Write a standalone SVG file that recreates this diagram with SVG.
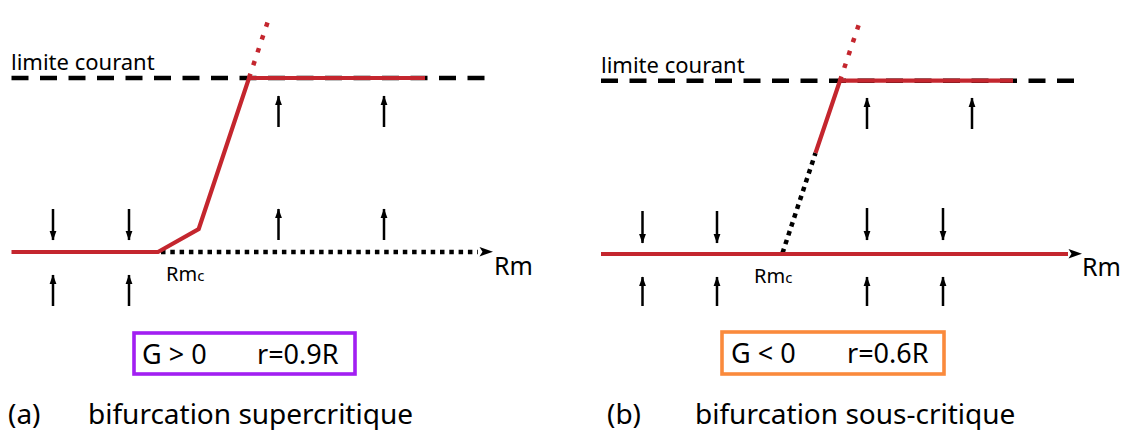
<svg xmlns="http://www.w3.org/2000/svg" width="1121" height="430" viewBox="0 0 1121 430">
<defs>
<marker id="ah" markerUnits="userSpaceOnUse" markerWidth="10" markerHeight="8" viewBox="0 -4 10 8" refX="9" refY="0" orient="auto">
<path d="M0,-3.4 L9.5,0 L0,3.4 z" fill="#000"/>
</marker>
</defs>
<style>
text{font-family:"Noto Sans","Open Sans","DejaVu Sans",sans-serif;fill:#000}
.lab{font-size:22px}
.rm{font-size:25px}
.rmc{font-size:20px}
.box{font-size:27px}
.cap{font-size:28px}
.red{stroke:#C4262E;stroke-width:4.2;fill:none}
.reddot{stroke:#C4262E;stroke-width:4.5;fill:none;stroke-dasharray:4.5 9}
.dash{stroke:#000;stroke-width:4.4;fill:none;stroke-dasharray:17 11.5}
.dot{stroke:#000;stroke-width:4.5;fill:none;stroke-dasharray:4.5 4.8}
.arr{stroke:#000;stroke-width:2.5;fill:none;marker-end:url(#ah)}
</style>

<g id="panel-a">
<text class="lab" x="11" y="69.5">limite courant</text>
<line class="dash" x1="11.5" y1="78" x2="490" y2="78"/>
<line class="dot" x1="161" y1="252" x2="478" y2="252"/>
<path d="M493,251.7 L479.5,247 L482.5,251.7 L479.5,256.4 z" fill="#000"/>
<line class="reddot" x1="249" y1="78" x2="269" y2="18"/>
<path class="red" d="M11.5,252 L158,252 L198.7,229 L249,78 L425,78"/>
<text class="rm" x="494" y="275">Rm</text>
<text class="rmc" x="166" y="281">Rm<tspan font-size="15">c</tspan></text>
<g id="arrows-a">
<line class="arr" x1="53" y1="209" x2="53" y2="240"/>
<line class="arr" x1="129" y1="209" x2="129" y2="240"/>
<line class="arr" x1="53" y1="306" x2="53" y2="275"/>
<line class="arr" x1="129" y1="306" x2="129" y2="275"/>
<line class="arr" x1="278.5" y1="127" x2="278.5" y2="96"/>
<line class="arr" x1="384" y1="127" x2="384" y2="96"/>
<line class="arr" x1="278.5" y1="240" x2="278.5" y2="209"/>
<line class="arr" x1="384" y1="240" x2="384" y2="209"/>
</g>
<g id="box-a">
<rect x="134" y="333" width="221" height="41" fill="#fff" stroke="#A21FF2" stroke-width="3.6"/>
<text class="box" x="142" y="364">G &gt; 0</text>
<text class="box" x="257" y="364">r=0.9R</text>
</g>
<text class="cap" x="8" y="424">(a)</text>
<text class="cap" x="88" y="424">bifurcation supercritique</text>
</g>

<g id="panel-b">
<text class="lab" x="601" y="73">limite courant</text>
<line class="dash" x1="601" y1="80.7" x2="1079" y2="80.7"/>
<line class="dot" x1="782.5" y1="253" x2="815.5" y2="153"/>
<line class="reddot" x1="840" y1="80.7" x2="860" y2="21"/>
<path class="red" d="M815.5,153 L840,80.7 L1013,80.7"/>
<line class="red" x1="601" y1="254" x2="1068" y2="254"/>
<path d="M1082,253.7 L1068.5,249 L1071.5,253.7 L1068.5,258.4 z" fill="#000"/>
<text class="rm" x="1082" y="276">Rm</text>
<text class="rmc" x="754" y="283">Rm<tspan font-size="15">c</tspan></text>
<g id="arrows-b">
<line class="arr" x1="642.5" y1="211" x2="642.5" y2="243"/>
<line class="arr" x1="717" y1="211" x2="717" y2="243"/>
<line class="arr" x1="867" y1="208" x2="867" y2="240"/>
<line class="arr" x1="943" y1="208" x2="943" y2="240"/>
<line class="arr" x1="642.5" y1="306" x2="642.5" y2="277"/>
<line class="arr" x1="717" y1="306" x2="717" y2="277"/>
<line class="arr" x1="867" y1="306" x2="867" y2="277"/>
<line class="arr" x1="943" y1="306" x2="943" y2="277"/>
<line class="arr" x1="867" y1="129" x2="867" y2="98"/>
<line class="arr" x1="972" y1="129" x2="972" y2="98"/>
</g>
<g id="box-b">
<rect x="722" y="332" width="222" height="42" fill="#fff" stroke="#FA8A3C" stroke-width="3.6"/>
<text class="box" x="731" y="363">G &lt; 0</text>
<text class="box" x="847" y="363">r=0.6R</text>
</g>
<text class="cap" x="607" y="424">(b)</text>
<text class="cap" x="695" y="424">bifurcation sous-critique</text>
</g>
</svg>
